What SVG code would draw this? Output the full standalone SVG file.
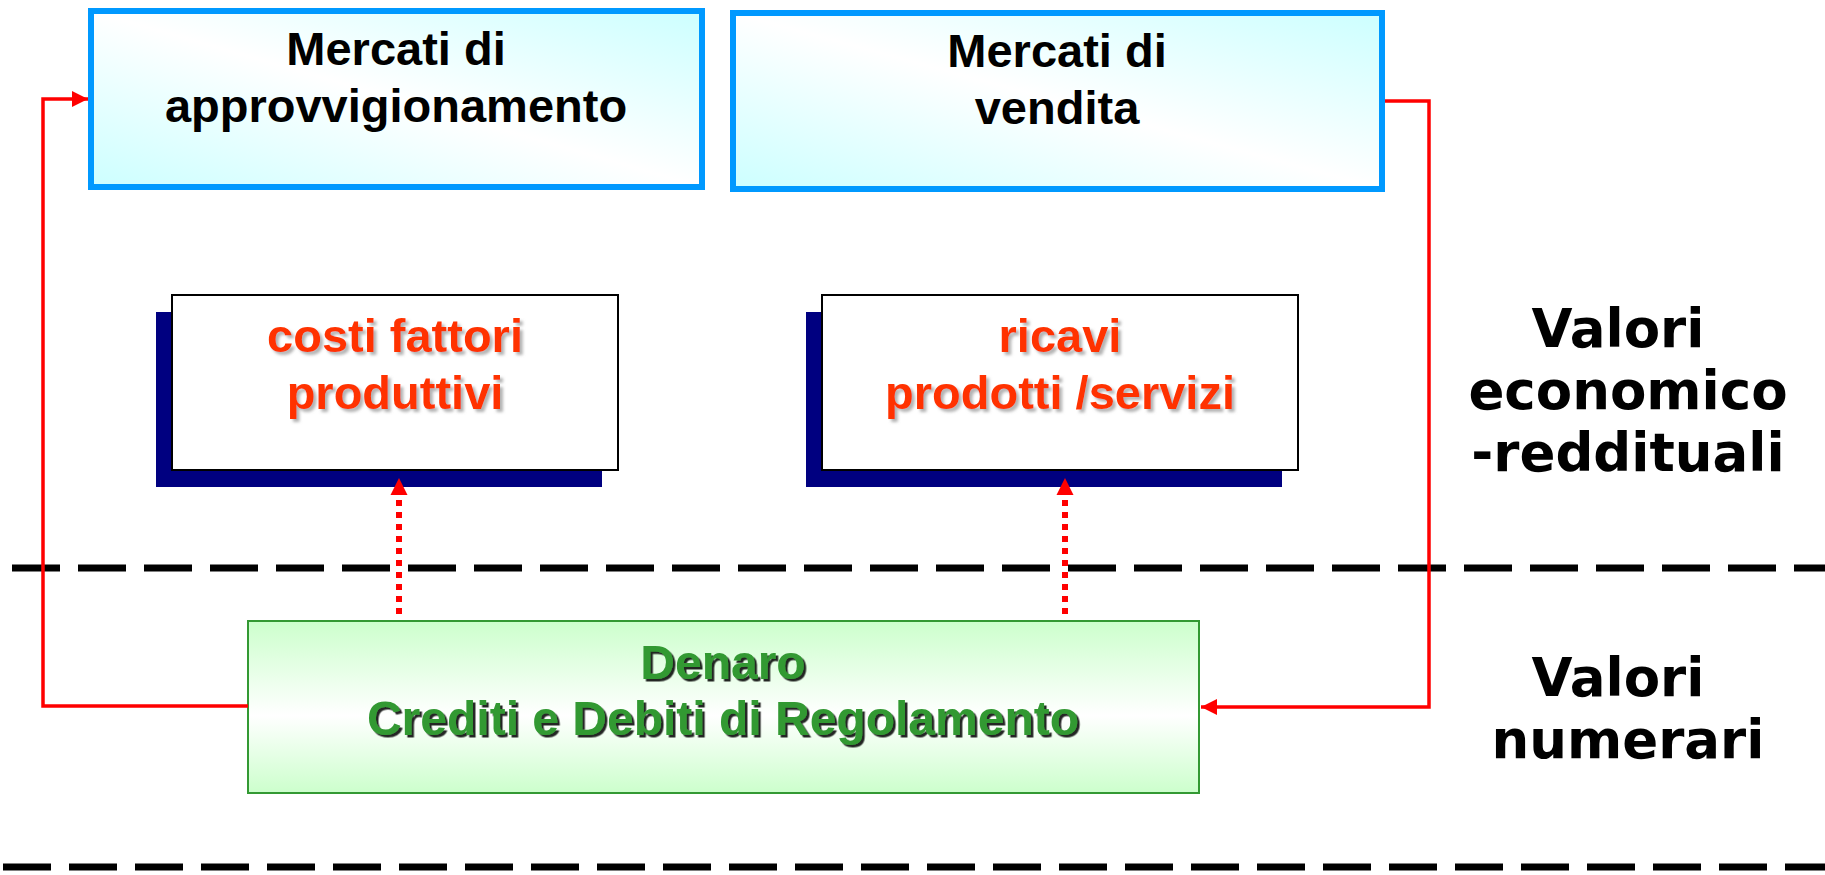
<svg xmlns="http://www.w3.org/2000/svg" width="1825" height="875" viewBox="0 0 1825 875">
<style>
.sep{stroke:#000;stroke-width:7;stroke-dasharray:48 18;fill:none}
.mk{fill:#fff;stroke:#0099FF;stroke-width:6}
.tb{font-family:"Liberation Sans",Arial,sans-serif;font-weight:bold;text-anchor:middle}
.blk{fill:#000;font-size:47px}
.red{fill:#FF3300;font-size:47px;filter:url(#soft)}
.grn{fill:#339933;font-size:48px;filter:url(#hard)}
.side{font-family:"DejaVu Sans",Verdana,sans-serif;font-weight:bold;font-size:53px;fill:#000;text-anchor:middle}
.shadow{fill:#000080}
.card{fill:#fff;stroke:#000;stroke-width:2}
.conn{fill:none;stroke:#FF0000;stroke-width:3.5}
.dot{fill:none;stroke:#FF0000;stroke-width:6;stroke-dasharray:6 6}
.head{fill:#FF0000}
</style>
<defs>
<linearGradient id="cy" x1="1" y1="0" x2="0" y2="1">
<stop offset="0" stop-color="#CCFFFF"/>
<stop offset="0.5" stop-color="#FFFFFF"/>
<stop offset="1" stop-color="#CCFFFF"/>
</linearGradient>
<linearGradient id="gr" x1="0" y1="0" x2="0" y2="1">
<stop offset="0" stop-color="#CCFFCC"/>
<stop offset="0.55" stop-color="#FFFFFF"/>
<stop offset="1" stop-color="#CCFFCC"/>
</linearGradient>
<filter id="soft" x="-10%" y="-20%" width="120%" height="150%">
<feDropShadow dx="3" dy="3" stdDeviation="1.5" flood-color="#808080" flood-opacity="0.6"/>
</filter>
<filter id="hard" x="-10%" y="-20%" width="120%" height="150%">
<feDropShadow dx="2.5" dy="2.5" stdDeviation="0.4" flood-color="#000" flood-opacity="0.85"/>
</filter>
<marker id="arr" viewBox="0 0 16 16" refX="16" refY="8" markerWidth="16" markerHeight="16" markerUnits="userSpaceOnUse" orient="auto">
<path d="M0,0 L16,8 L0,16 Z" fill="#FF0000"/>
</marker>
</defs>
<rect width="1825" height="875" fill="#fff"/>

<g id="separators">
<line class="sep" x1="12" y1="568" x2="1825" y2="568"/>
<line class="sep" x1="3" y1="867" x2="1825" y2="867"/>
</g>

<g id="mercati-approvvigionamento">
<rect class="mk" x="91" y="11" width="611" height="176" style="fill:url(#cy)"/>
<text class="tb blk" x="396" y="65">Mercati di</text>
<text class="tb blk" x="396" y="122">approvvigionamento</text>
</g>

<g id="mercati-vendita">
<rect class="mk" x="733" y="13" width="649" height="176" style="fill:url(#cy)"/>
<text class="tb blk" x="1057" y="67">Mercati di</text>
<text class="tb blk" x="1057" y="124">vendita</text>
</g>

<g id="costi">
<rect class="shadow" x="156" y="312" width="446" height="175"/>
<rect class="card" x="172" y="295" width="446" height="175"/>
<text class="tb red" x="395" y="352">costi fattori</text>
<text class="tb red" x="395" y="409">produttivi</text>
</g>

<g id="ricavi">
<rect class="shadow" x="806" y="312" width="476" height="175"/>
<rect class="card" x="822" y="295" width="476" height="175"/>
<text class="tb red" x="1060" y="352">ricavi</text>
<text class="tb red" x="1060" y="409">prodotti /servizi</text>
</g>

<g id="denaro">
<rect x="248" y="621" width="951" height="172" fill="url(#gr)" stroke="#339933" stroke-width="2"/>
<text class="tb grn" x="723" y="679">Denaro</text>
<text class="tb grn" x="723" y="735">Crediti e Debiti di Regolamento</text>
</g>

<g id="label-economico">
<text class="side" x="1618" y="347">Valori</text>
<text class="side" x="1628" y="409">economico</text>
<text class="side" x="1628" y="471">-reddituali</text>
</g>

<g id="label-numerari">
<text class="side" x="1618" y="696">Valori</text>
<text class="side" x="1628" y="758">numerari</text>
</g>

<g id="connectors">
<path class="conn" d="M248,706 H43 V99 H88" marker-end="url(#arr)"/>
<path class="conn" d="M1385,101 H1429 V707 H1201" marker-end="url(#arr)"/>
<path class="dot" d="M399,614 V500"/>
<path class="head" d="M399,478 L407.5,495 L390.5,495 Z"/>
<path class="dot" d="M1065,614 V500"/>
<path class="head" d="M1065,478 L1073.5,495 L1056.5,495 Z"/>
</g>
</svg>
